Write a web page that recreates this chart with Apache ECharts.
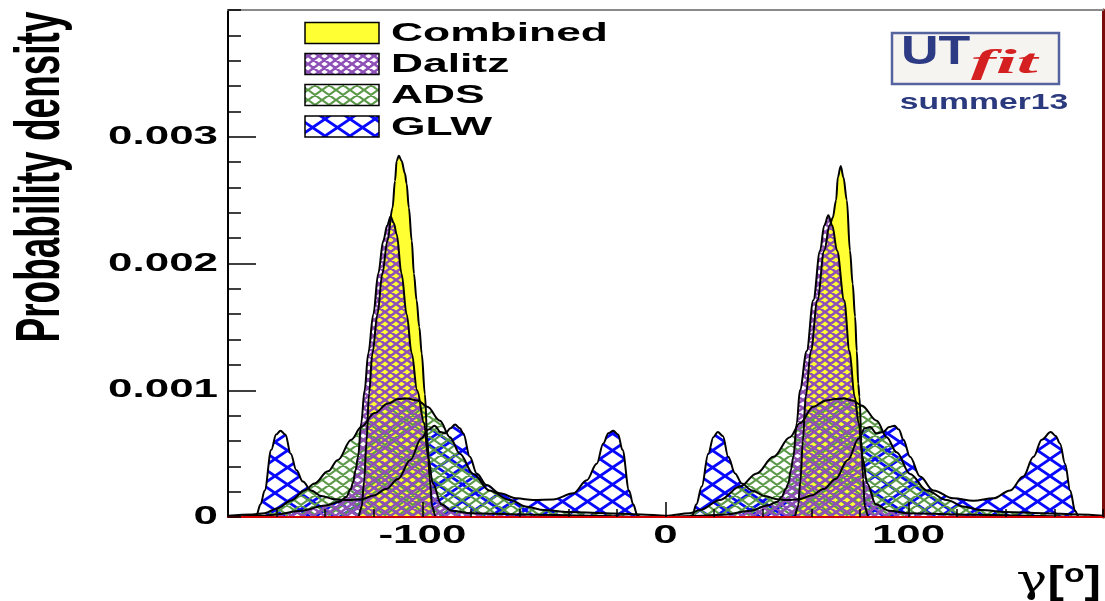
<!DOCTYPE html>
<html>
<head>
<meta charset="utf-8">
<script src="https://cdn.jsdelivr.net/npm/echarts@6/dist/echarts.min.js"></script>
<style>
  html, body { margin: 0; padding: 0; background: #ffffff; }
  #chart { width: 1105px; height: 601px; }
</style>
</head>
<body>
<div id="chart"></div>
<script>
// Posterior densities for the CKM angle gamma, [gamma (deg), probability density]
const glw = [
  [-180, 0], [-170, 0], [-168.4, 0.00001], [-166.6, 0.0001], [-164.9, 0.00021], [-162.2, 0.00053],
  [-160.2, 0.00065], [-158.4, 0.00068], [-156.4, 0.00065], [-154.2, 0.0005], [-151.9, 0.00037],
  [-149.2, 0.00028], [-145.8, 0.00021], [-141.6, 0.000165], [-136.1, 0.00014], [-130.7, 0.000134],
  [-125, 0.00014], [-120, 0.00017], [-115, 0.00022], [-110, 0.0003], [-105, 0.00045], [-100.5, 0.00062],
  [-97.5, 0.00069], [-95, 0.00072], [-92.5, 0.00067], [-90.5, 0.00066], [-88.5, 0.0007], [-86.6, 0.00073],
  [-84.6, 0.0007], [-83.2, 0.00066], [-80.5, 0.000475], [-77.7, 0.000344], [-73.6, 0.000252],
  [-68.1, 0.000187], [-61.2, 0.000147], [-54.4, 0.000134], [-46.2, 0.000139], [-37.9, 0.000187],
  [-32.4, 0.00029], [-28.3, 0.00042], [-25.6, 0.00058], [-23.5, 0.00066], [-21.5, 0.00068],
  [-19.5, 0.00065], [-17.7, 0.00053], [-15, 0.00021], [-13.3, 0.0001], [-11.5, 0.00001], [-10, 0],
  [0, 0], [10, 0], [11, 0.00001], [12.7, 0.0001], [14.9, 0.00024], [17.6, 0.0005], [19.7, 0.00063],
  [21.5, 0.00067], [23.6, 0.00064], [25.8, 0.000475], [28.6, 0.000344], [31.4, 0.000265], [35.5, 0.00021],
  [40.9, 0.000165], [46, 0.00014], [50, 0.000134], [55, 0.00014], [60, 0.00017], [65, 0.00022],
  [70, 0.0003], [75, 0.00045], [79.5, 0.00062], [82, 0.0007], [84.2, 0.00071], [86.8, 0.00066],
  [89.5, 0.00067], [92, 0.00071], [94.2, 0.00072], [96, 0.00069], [97.9, 0.00061], [100.6, 0.000475],
  [104.7, 0.00032], [110.2, 0.00021], [118.4, 0.000147], [126.7, 0.000128], [134.9, 0.000147],
  [141.8, 0.00021], [147.2, 0.00032], [151.4, 0.000475], [154.8, 0.00061], [158.5, 0.00067],
  [160.5, 0.00064], [162.3, 0.00058], [164.4, 0.00042], [166.5, 0.00021], [168.5, 0.00005], [170, 0], [180, 0]
];

const combined = [
  [-180, 0], [-130, 0], [-126.5, 0], [-125, 0.00008], [-124, 0.00028], [-123, 0.0006], [-122, 0.00097],
  [-120.6, 0.00129], [-118.5, 0.0016], [-116.5, 0.00192], [-114.4, 0.00218], [-112.3, 0.00244],
  [-111.3, 0.00265], [-110.6, 0.00281], [-109.7, 0.00285], [-108.6, 0.00281], [-107.2, 0.00271],
  [-106.5, 0.00263], [-105.6, 0.00244], [-104.4, 0.00218], [-103.5, 0.00192], [-102.4, 0.00171],
  [-101.3, 0.0015], [-100.3, 0.00129], [-99, 0.00097], [-98, 0.00062], [-97, 0.0003], [-96, 0.00008],
  [-94.5, 0], [-60, 0], [0, 0], [50, 0], [53, 0], [54.5, 0.00008], [55.5, 0.00028], [56.5, 0.0006],
  [57.7, 0.00095], [59.8, 0.00131], [62.5, 0.00171], [65.3, 0.0021], [67.5, 0.0023], [68.8, 0.00236],
  [70.2, 0.0025], [70.9, 0.00268], [72.1, 0.00277], [73.2, 0.00268], [74.6, 0.0025], [75.9, 0.0021],
  [77, 0.00184], [78, 0.00158], [78.7, 0.00131], [79.3, 0.00105], [79.8, 0.00095], [80.6, 0.0006],
  [81.3, 0.0003], [82, 0.00008], [83.5, 0], [120, 0], [180, 0]
];

const ads = [
  [-180, 0.00001], [-170, 0.00002], [-165, 0.00003], [-159.5, 0.00007], [-154, 0.00013], [-148.5, 0.00021],
  [-144.4, 0.000265], [-138.9, 0.00036], [-134.8, 0.00045], [-129.3, 0.00061], [-125.2, 0.00071],
  [-119.7, 0.00082], [-114.2, 0.000895], [-110, 0.00093], [-106.3, 0.000935], [-102, 0.00092],
  [-98, 0.00087], [-92.8, 0.00076], [-88.7, 0.00063], [-84.6, 0.0005], [-79.1, 0.00034], [-72.5, 0.00021],
  [-64, 0.000134], [-57, 0.00008], [-50, 0.000055], [-40, 0.00004], [-25, 0.00003], [-10, 0.00002],
  [0, 0.00001], [10, 0.00003], [14.2, 0.000055], [22.4, 0.000134], [30.7, 0.00024], [37.5, 0.000344],
  [44.4, 0.000475], [51.2, 0.00063], [55.3, 0.00074], [60.8, 0.00087], [66, 0.00092], [70, 0.00093],
  [73.5, 0.000935], [77, 0.00092], [80.7, 0.00088], [86.9, 0.00076], [91, 0.00063], [95.1, 0.00051],
  [100.6, 0.00034], [107.5, 0.00021], [115.7, 0.000134], [123, 0.00008], [130, 0.000055], [140, 0.00004],
  [155, 0.00003], [170, 0.00002], [180, 0.00001]
];

const dalitz = [
  [-180, 0], [-165, 0.00001], [-160, 0.00002], [-150, 0.00005], [-140, 0.00009], [-134, 0.00012],
  [-131.3, 0.00016], [-129.5, 0.00022], [-128.6, 0.00027], [-127.5, 0.00037], [-126.5, 0.000475],
  [-125.2, 0.00074], [-123.8, 0.001], [-122.3, 0.00129], [-120.2, 0.0016], [-118.2, 0.00192],
  [-116.1, 0.00218], [-114.5, 0.0023], [-113.1, 0.00237], [-111.8, 0.00232], [-110.6, 0.00223],
  [-108.6, 0.00192], [-106.5, 0.0016], [-104.4, 0.00129], [-102.2, 0.001], [-99.3, 0.00074],
  [-97.7, 0.000475], [-95.7, 0.000265], [-92.3, 0.0001], [-88, 0.00005], [-80, 0.00003], [-60, 0.00002],
  [-30, 0.00001], [-10, 0], [0, 0], [15, 0.00001], [25, 0.00002], [35, 0.00005], [42, 0.00009],
  [46, 0.00012], [47.8, 0.00016], [49.5, 0.00022], [50.5, 0.000265], [51.6, 0.00037], [52.6, 0.000475],
  [54, 0.00074], [55.3, 0.001], [58.1, 0.00131], [60.8, 0.00171], [63.6, 0.0021], [65.3, 0.0023],
  [67, 0.00238], [68.6, 0.0023], [70.6, 0.0021], [73.5, 0.00171], [75.7, 0.00131], [77.8, 0.00095],
  [79.5, 0.00074], [81, 0.000475], [83, 0.000265], [86.5, 0.0001], [92, 0.00005], [100, 0.00003],
  [120, 0.00002], [150, 0.00001], [170, 0], [180, 0]
];

const legendNames = ['Combined', 'Dalitz', 'ADS', 'GLW'];
const yLabelValues = [0, 0.001, 0.002, 0.003];
const yLabelText = ['0', '0.001', '0.002', '0.003'];
const xLabelValues = [-100, 0, 100];
const xLabelText = ['-100', '0', '100'];

// crosshatch tile: two diagonal families meeting at the tile corners
function hatchTile(w, h, color, lw, bg) {
  const c = document.createElement('canvas');
  c.width = w; c.height = h;
  const g = c.getContext('2d');
  if (bg) { g.fillStyle = bg; g.fillRect(0, 0, w, h); }
  g.strokeStyle = color;
  g.lineWidth = lw;
  g.beginPath();
  for (let k = -1; k <= 1; k++) {
    g.moveTo(k * w, 0); g.lineTo(k * w + w, h);
    g.moveTo(k * w, h); g.lineTo(k * w + w, 0);
  }
  g.stroke();
  return c;
}

const YELLOW = '#ffff33';
const PURPLE = '#8e4fb6';
const GREEN = '#5c9a4a';
const BLUE = '#0808ff';
const fills = {
  Combined: YELLOW,
  Dalitz: { image: hatchTile(11, 8, PURPLE, 2.6), repeat: 'repeat' },
  ADS: { image: hatchTile(14, 10, GREEN, 2.2), repeat: 'repeat' },
  GLW: { image: hatchTile(25, 17, BLUE, 2.8), repeat: 'repeat' }
};
const legendFills = {
  Combined: YELLOW,
  Dalitz: { image: hatchTile(11, 8, PURPLE, 2.6, '#ffffff'), repeat: 'repeat' },
  ADS: { image: hatchTile(14, 10, GREEN, 2.2, '#ffffff'), repeat: 'repeat' },
  GLW: { image: hatchTile(25, 17, BLUE, 2.8, '#ffffff'), repeat: 'repeat' }
};

function densitySeries(name, data) {
  return {
    type: 'line', name: name, data: data,
    showSymbol: false, silent: true,
    smooth: 0.35, smoothMonotone: 'x',
    lineStyle: { color: '#000000', width: 2 },
    areaStyle: { color: fills[name], opacity: 1 }
  };
}

const noLabel = { show: false };
const noSplit = { show: false };

const chart = echarts.init(document.getElementById('chart'), null, { renderer: 'canvas' });

chart.setOption({
  animation: false,
  backgroundColor: '#ffffff',
  grid: { left: 228, right: 2, top: 10, bottom: 84 },
  xAxis: [
    { type: 'value', min: -180, max: 180, interval: 20, position: 'bottom', z: 10,
      axisLine: { show: true, onZero: false, lineStyle: { color: '#d40000', width: 2 } },
      axisTick: { show: true, inside: true, length: 8, lineStyle: { color: '#000000', width: 1.5 } },
      axisLabel: noLabel, splitLine: noSplit },
    { type: 'value', min: -180, max: 180, interval: 20, position: 'bottom', z: 10,
      axisLine: { show: false, onZero: false },
      axisTick: { show: true, inside: true, length: 15, customValues: xLabelValues,
                  lineStyle: { color: '#000000', width: 1.5 } },
      axisLabel: noLabel, splitLine: noSplit },
    { type: 'value', min: -180, max: 180, interval: 20, position: 'top', z: 10,
      axisLine: { show: true, onZero: false, lineStyle: { color: '#8a8a8a', width: 2 } },
      axisTick: { show: false }, axisLabel: noLabel, splitLine: noSplit }
  ],
  yAxis: [
    { type: 'value', min: 0, max: 0.004, interval: 0.0002, position: 'left', z: 10,
      axisLine: { show: true, onZero: false, lineStyle: { color: '#000000', width: 2 } },
      axisTick: { show: true, inside: true, length: 13, lineStyle: { color: '#000000', width: 1.5 } },
      axisLabel: noLabel, splitLine: noSplit },
    { type: 'value', min: 0, max: 0.004, interval: 0.0002, position: 'left', z: 10,
      axisLine: { show: false, onZero: false },
      axisTick: { show: true, inside: true, length: 28, customValues: [0.001, 0.002, 0.003],
                  lineStyle: { color: '#000000', width: 1.5 } },
      axisLabel: noLabel, splitLine: noSplit },
    { type: 'value', min: 0, max: 0.004, interval: 0.0002, position: 'right', z: 10,
      axisLine: { show: true, onZero: false, lineStyle: { color: '#7a0c0c', width: 3 } },
      axisTick: { show: false }, axisLabel: noLabel, splitLine: noSplit }
  ],
  series: [
    densitySeries('GLW', glw),
    densitySeries('Combined', combined),
    densitySeries('ADS', ads),
    densitySeries('Dalitz', dalitz)
  ]
});

// stretched heavy lettering for tick labels, titles, legend and logo
const LABEL_FONT = 'bold 26px "Liberation Sans", Arial, sans-serif';
const STRETCH = 1.69;

function stretchedText(x, y, text, font, align, vAlign, scaleX, color) {
  return {
    type: 'text', x: x, y: y, scaleX: scaleX, silent: true, z: 100,
    style: { text: text, font: font, fill: color || '#000000',
             align: align, verticalAlign: vAlign, textAlign: align, textVerticalAlign: vAlign }
  };
}

const gfx = [];

yLabelValues.forEach(function (v, i) {
  const p = chart.convertToPixel({ xAxisIndex: 0, yAxisIndex: 0 }, [-180, v]);
  gfx.push(stretchedText(p[0] - 10, p[1], yLabelText[i], LABEL_FONT, 'right', 'middle', STRETCH));
});
xLabelValues.forEach(function (v, i) {
  const p = chart.convertToPixel({ xAxisIndex: 0, yAxisIndex: 0 }, [v, 0]);
  gfx.push(stretchedText(p[0], p[1] + 19, xLabelText[i], LABEL_FONT, 'center', 'middle', STRETCH));
});

// y-axis title, reading upward
gfx.push({
  type: 'text', x: 42, y: 177, rotation: Math.PI / 2, scaleY: 1.7, silent: true, z: 100,
  style: { text: 'Probability density', font: 'bold 37px "Liberation Sans", Arial, sans-serif',
           fill: '#000000', align: 'center', verticalAlign: 'middle',
           textAlign: 'center', textVerticalAlign: 'middle' }
});

// x-axis title
gfx.push({
  type: 'text', x: 1101, y: 582, scaleX: 1.3, silent: true, z: 100,
  style: {
    text: '{g|γ}{b|[}{o|o}{b|]}',
    align: 'right', verticalAlign: 'middle', textAlign: 'right', textVerticalAlign: 'middle',
    rich: {
      g: { font: '40px "DejaVu Serif", "Liberation Serif", serif', fill: '#000000', verticalAlign: 'bottom' },
      b: { font: 'bold 38px "Liberation Sans", Arial, sans-serif', fill: '#000000', verticalAlign: 'bottom' },
      o: { font: 'bold 26px "Liberation Sans", Arial, sans-serif', fill: '#000000', verticalAlign: 'top' }
    }
  }
});

// legend
const rowY = [33, 64, 95, 126.5];
legendNames.forEach(function (name, i) {
  gfx.push({
    type: 'rect', silent: true, z: 100,
    shape: { x: 305, y: rowY[i] - 10.5, width: 74, height: 21 },
    style: { fill: legendFills[name], stroke: '#000000', lineWidth: 1.5 }
  });
  gfx.push(stretchedText(391, rowY[i] + 1, name, 'bold 25.5px "Liberation Sans", Arial, sans-serif',
                         'left', 'middle', 1.74));
});

// UTfit badge
gfx.push({
  type: 'rect', silent: true, z: 100,
  shape: { x: 892, y: 33, width: 167, height: 51 },
  style: { fill: '#f6f4f1', stroke: '#55649f', lineWidth: 2.5 }
});
gfx.push(stretchedText(901, 53, 'UT', 'bold 40px "Liberation Sans", Arial, sans-serif',
                       'left', 'middle', 1.3, '#2d3a84'));
gfx.push(stretchedText(971, 64, 'fit', 'bold italic 34px "Liberation Serif", serif',
                       'left', 'middle', 2.2, '#d42020'));
gfx.push(stretchedText(984, 103, 'summer13', 'bold 22px "Liberation Sans", Arial, sans-serif',
                       'center', 'middle', 1.53, '#2b3a7e'));

chart.setOption({ graphic: gfx });
</script>
</body>
</html>
